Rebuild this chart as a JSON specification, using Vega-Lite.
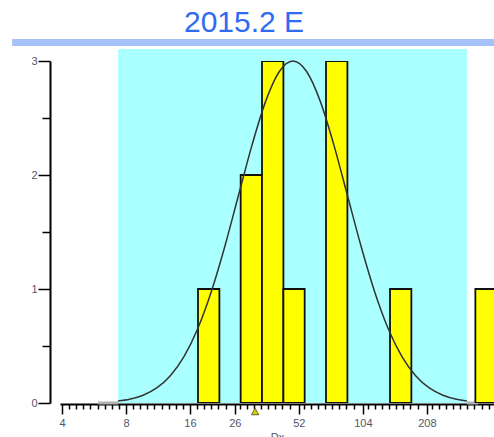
{
  "$schema": "https://vega.github.io/schema/vega-lite/v6.json",
  "autosize": "none",
  "padding": {"left": 60, "top": 61, "right": 0, "bottom": 34},
  "width": 434,
  "height": 342,
  "background": "white",
  "view": {"stroke": null},
  "title": {"text": "2015.2 E", "font": "Liberation Sans", "fontSize": 30, "fontWeight": "normal", "color": "#2f6bf2", "anchor": "middle", "frame": "group", "offset": 1, "dx": -33},
  "config": {"font": "Liberation Sans"},
  "layer": [
    {
      "data": {"values": [{"x": 7.34, "x2": 321.4, "y": 0, "y2": 3.105}]},
      "mark": {"type": "rect", "color": "#aaffff", "clip": false},
      "encoding": {
        "x": {"field": "x", "type": "quantitative", "title": "Dx",
          "scale": {"type": "log", "domain": [3.915, 430.5], "nice": false},
          "axis": {
            "orient": "bottom", "offset": 1,
            "values": [4, 4.32, 4.666, 5.04, 5.443, 5.879, 6.35, 6.858, 7.407, 8, 8.641, 9.332, 10.08, 10.89, 11.76, 12.7, 13.72, 14.81, 16, 17.28, 18.66, 20.16, 21.77, 23.52, 26, 27.43, 29.63, 32, 34.56, 37.33, 40.32, 43.55, 47.03, 52, 54.86, 59.25, 64, 69.13, 74.66, 80.63, 87.09, 94.06, 104, 109.7, 118.5, 128, 138.3, 149.3, 161.3, 174.2, 188.1, 208, 219.5, 237, 256, 276.5, 298.6, 322.5, 348.4, 376.2, 406.4],
            "labelExpr": "indexof([4,8,16,26,52,104,208], datum.value) >= 0 ? datum.value : ''",
            "tickSize": {"condition": {"test": "indexof([4,8,16,26,52,104,208], datum.value) >= 0", "value": 10}, "value": 5},
            "domainColor": "#000000", "domainWidth": 2,
            "tickColor": "#000000", "tickWidth": 1.5,
            "labelColor": "#555566", "labelFontSize": 11, "labelPadding": 3,
            "labelOverlap": false, "labelFlush": false, "labelBound": false,
            "grid": false,
            "titleFontSize": 11, "titleFontWeight": "normal", "titleColor": "#555566", "titlePadding": 3
          }
        },
        "x2": {"field": "x2"},
        "y": {"field": "y", "type": "quantitative",
          "scale": {"domain": [0, 3], "nice": false},
          "axis": {
            "orient": "left", "offset": 10,
            "values": [0, 0.5, 1, 1.5, 2, 2.5, 3],
            "labelExpr": "datum.value % 1 == 0 ? datum.value : ''",
            "tickSize": {"condition": {"test": "datum.value % 1 == 0", "value": 12}, "value": 8},
            "domainColor": "#000000", "domainWidth": 2,
            "tickColor": "#000000", "tickWidth": 1.5,
            "labelColor": "#555566", "labelFontSize": 11, "labelPadding": 1,
            "grid": false, "title": null
          }
        },
        "y2": {"field": "y2"}
      }
    },
    {
      "data": {"values": [{"x": 2.33, "x2": 700, "y": 3.162}]},
      "mark": {"type": "rule", "color": "#a4c2f7", "strokeWidth": 7, "clip": false},
      "encoding": {
        "x": {"field": "x", "type": "quantitative"},
        "x2": {"field": "x2"},
        "y": {"field": "y", "type": "quantitative"}
      }
    },
    {
      "data": {"values": [{"x": 5.9, "x2": 7.34, "y": 0}, {"x": 321.4, "x2": 362, "y": 0}]},
      "mark": {"type": "rule", "color": "#b0b0b0", "strokeWidth": 3, "clip": false},
      "encoding": {
        "x": {"field": "x", "type": "quantitative"},
        "x2": {"field": "x2"},
        "y": {"field": "y", "type": "quantitative"}
      }
    },
    {
      "data": {"values": [
        {"lo": 17.45, "hi": 22.0, "count": 1},
        {"lo": 27.7, "hi": 34.9, "count": 2},
        {"lo": 34.9, "hi": 44.0, "count": 3},
        {"lo": 44.0, "hi": 55.4, "count": 1},
        {"lo": 69.8, "hi": 88.0, "count": 3},
        {"lo": 139.6, "hi": 175.9, "count": 1},
        {"lo": 351.8, "hi": 443.3, "count": 1}
      ]},
      "mark": {"type": "rect", "fill": "#ffff00", "stroke": "#111111", "strokeWidth": 1.8, "clip": true},
      "encoding": {
        "x": {"field": "lo", "type": "quantitative"},
        "x2": {"field": "hi"},
        "y": {"field": "count", "type": "quantitative"},
        "y2": {"datum": 0}
      }
    },
    {
      "data": {"values": [
        {"x": 7.34, "y": 0.0174}, {"x": 8.31, "y": 0.0333}, {"x": 9.63, "y": 0.0684}, {"x": 11.16, "y": 0.1318},
        {"x": 12.93, "y": 0.2387}, {"x": 14.99, "y": 0.406}, {"x": 17.37, "y": 0.649}, {"x": 20.13, "y": 0.974},
        {"x": 23.33, "y": 1.373}, {"x": 27.04, "y": 1.82}, {"x": 31.34, "y": 2.264}, {"x": 36.33, "y": 2.648},
        {"x": 42.1, "y": 2.908}, {"x": 48.8, "y": 3.0}, {"x": 56.56, "y": 2.908}, {"x": 65.56, "y": 2.648},
        {"x": 75.98, "y": 2.264}, {"x": 88.06, "y": 1.82}, {"x": 102.1, "y": 1.373}, {"x": 118.3, "y": 0.974},
        {"x": 137.1, "y": 0.649}, {"x": 158.9, "y": 0.406}, {"x": 184.2, "y": 0.2387}, {"x": 213.5, "y": 0.1318},
        {"x": 247.5, "y": 0.0684}, {"x": 286.8, "y": 0.0333}, {"x": 320.8, "y": 0.0185}
      ]},
      "mark": {"type": "line", "color": "#333333", "strokeWidth": 1.5, "interpolate": "monotone", "clip": false},
      "encoding": {
        "x": {"field": "x", "type": "quantitative"},
        "y": {"field": "y", "type": "quantitative"}
      }
    },
    {
      "data": {"values": [{"x": 32.4, "y": -0.075}]},
      "mark": {"type": "point", "shape": "triangle-up", "filled": true, "fill": "#d8d000", "stroke": "#666633", "strokeWidth": 1, "size": 55, "opacity": 1, "clip": false},
      "encoding": {
        "x": {"field": "x", "type": "quantitative"},
        "y": {"field": "y", "type": "quantitative"}
      }
    }
  ]
}
